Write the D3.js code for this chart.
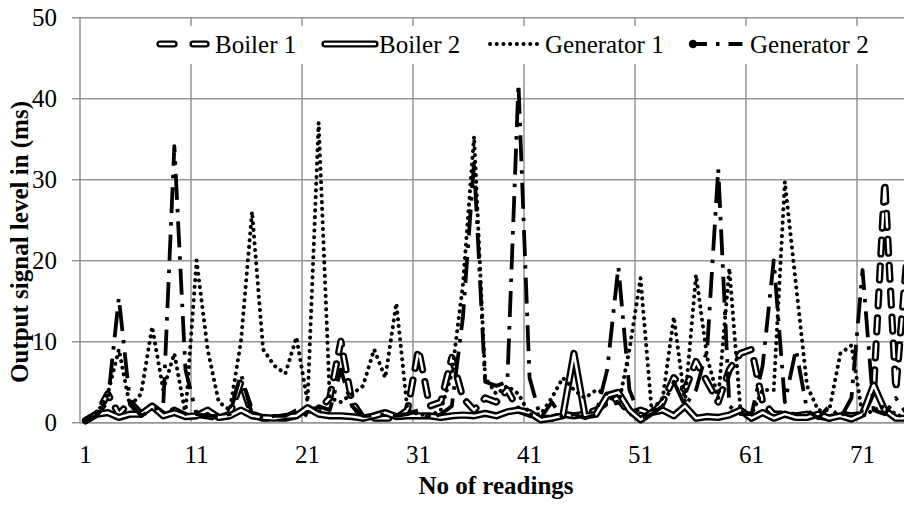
<!DOCTYPE html>
<html><head><meta charset="utf-8">
<script src="https://cdn.jsdelivr.net/npm/d3@7"></script>
<style>body{margin:0;background:#fff}svg{display:block}svg text{font-family:"Liberation Serif","Times New Roman",serif}</style>
</head><body>
<svg id="chart" width="904" height="505"></svg>
<script>
// ---------- data ----------
const readings = d3.range(1, 76);
const boiler1 = [0.2,1,3.5,1,2.5,1,2,1,1.5,0.8, 1,0.8,0.5,1,5,1,0.5,0.5,0.5,0.8,
  1.5,1.5,3,10,2.5,0.5,0.5,0.5,0.5,1.5, 9,2,2.5,8,3,1.5,3,2.5,4,1.5,
  1,0.5,0.5,1,0.8,1,1.5,2.5,3,1, 1.5,1,2.5,5.5,4,7.5,5,2.5,6.5,8.5,
  9,2.5,1,1,0.8,1,0.8,0.5,1,0.8, 1,4,29.7,4,20.5];
const boiler2 = [0.2,1,1.2,0.6,1,1,2,0.8,1.2,0.7, 0.8,1.5,0.6,0.8,1.5,0.8,0.6,0.5,0.7,0.8,
  1.8,1,0.8,0.8,0.7,0.5,0.8,1.2,0.7,0.8, 0.8,0.8,0.6,0.8,0.9,0.8,1.1,0.8,1.3,1.5,
  1.2,0.3,0.5,0.8,8.5,0.8,1,3.3,3.7,1.5, 0.3,1.2,1.5,0.8,2,0.5,0.7,0.6,0.9,1.5,
  0.5,1.2,0.5,1,0.6,0.6,1,0.5,0.8,0.4, 1,4.6,1.5,0.5,0.5];
const generator1 = [0.2,1,3.5,9,2,3.5,11.8,4,8.5,1, 20,9,2.5,1.5,10,26,9,7,6,10.5,
  2.5,37,3,2.5,3.5,4.5,9,5.5,14.7,1.5, 1,0.8,1.5,6,17,35.3,5.5,3.5,4.5,3.5,
  1,1,3,5.5,4,3,4,3.5,2,9, 17.8,1.5,3,13,2.5,18.2,8,3,19,1.5,
  1,4,4,29.7,17,4.5,1.5,1.5,8.5,9.5, 0.8,1.5,2,1,0.5];
const generator2 = [0.2,0.8,2.5,15.4,2.5,0.8,1.5,2,34.1,6.5, 1,0.8,0.8,1,6,1,0.5,0.8,0.8,1.5,
  0.8,2,1.5,6.5,2,0.8,0.8,1,0.8,1, 1.5,0.5,1,2,13,32,5,4.5,5,41.8,
  5.5,0.5,2.5,0.5,1,0.5,1,6.5,19.2,4, 0.5,1,2,5,2,4,9,31.3,2,1,
  1,7,20,2.5,9,1.5,0.5,2,0.5,3, 18.8,1.5,1,3,1];
const yTickValues = [0,10,20,30,40,50];
const xTickLabels = [1,11,21,31,41,51,61,71];
const seriesNames = ["Boiler 1","Boiler 2","Generator 1","Generator 2"];

// ---------- layout ----------
const svg = d3.select("#chart");
const L = 80, R = 912.5, T = 17.3, B = 422.3;
const x = d3.scaleBand().domain(readings).range([L, R]);
const y = d3.scaleLinear().domain([0, 50]).range([B, T]);
const cx = r => x(r) + x.bandwidth() / 2;
const gridCol = "#959595";
const font = "Liberation Serif";

// horizontal gridlines + y ticks
const yAxis = svg.append("g").attr("transform", `translate(${L},0)`)
  .call(d3.axisLeft(y).tickValues(yTickValues).tickSize(8).tickPadding(15).tickSizeOuter(0));
yAxis.select(".domain").remove();
yAxis.selectAll(".tick line").attr("stroke", gridCol).attr("stroke-width", 1.5)
  .attr("x2", -8).attr("x1", R - L);
yAxis.selectAll(".tick text").style("font-family", font).attr("font-size", 25)
  .attr("fill", "#000").attr("dy", "0.33em");

// vertical gridlines at every 10th category boundary
const vLines = readings.filter(r => (r - 1) % 10 === 0);
svg.append("g").selectAll("line").data(vLines).join("line")
  .attr("x1", d => x(d)).attr("x2", d => x(d)).attr("y1", T).attr("y2", B)
  .attr("stroke", gridCol).attr("stroke-width", 1.5);

// x axis
const xAxis = svg.append("g").attr("transform", `translate(0,${B})`)
  .call(d3.axisBottom(x).tickValues(xTickLabels).tickSize(0).tickPadding(23).tickSizeOuter(0));
xAxis.select(".domain").attr("stroke", gridCol).attr("stroke-width", 1.5);
xAxis.selectAll(".tick text").style("font-family", font).attr("font-size", 25).attr("fill", "#000");

// ---------- series ----------
const line = d3.line().x((d, i) => cx(readings[i])).y(d => y(d));
const gPlot = svg.append("g");
function drawDouble(data, dash) {
  gPlot.append("path").attr("d", line(data)).attr("fill", "none").attr("stroke", "#000")
    .attr("stroke-width", 7.2).attr("stroke-linejoin", "round").attr("stroke-linecap", "round")
    .attr("stroke-dasharray", dash);
  gPlot.append("path").attr("d", line(data)).attr("fill", "none").attr("stroke", "#fff")
    .attr("stroke-width", 2.4).attr("stroke-linejoin", "round").attr("stroke-linecap", "round")
    .attr("stroke-dasharray", dash);
}
const dashB1 = "14 12";
const dashG1 = "0.1 6.6";
const dashG2 = "26 9 3.5 9";
drawDouble(boiler1, dashB1);
drawDouble(boiler2, null);
gPlot.append("path").attr("d", line(generator1)).attr("fill", "none").attr("stroke", "#000")
  .attr("stroke-width", 4).attr("stroke-linecap", "round").attr("stroke-linejoin", "round")
  .attr("stroke-dasharray", dashG1);
gPlot.append("path").attr("d", line(generator2)).attr("fill", "none").attr("stroke", "#000")
  .attr("stroke-width", 3.8).attr("stroke-linecap", "butt").attr("stroke-linejoin", "round")
  .attr("stroke-dasharray", dashG2);

// ---------- legend ----------
const lg = svg.append("g");
lg.append("rect").attr("x", 148).attr("y", 26).attr("width", 735).attr("height", 38).attr("fill", "#fff");
const ly = 44;
const items = [
  {name: seriesNames[0], x1: 160, x2: 206, tx: 215},
  {name: seriesNames[1], x1: 325, x2: 375, tx: 379},
  {name: seriesNames[2], x1: 490, x2: 537, tx: 545},
  {name: seriesNames[3], x1: 693, x2: 748, tx: 750}
];
{
  const it = items[0];
  lg.append("line").attr("x1", it.x1).attr("x2", it.x2).attr("y1", ly).attr("y2", ly)
    .attr("stroke", "#000").attr("stroke-width", 7.2).attr("stroke-linecap", "round").attr("stroke-dasharray", "14 19");
  lg.append("line").attr("x1", it.x1).attr("x2", it.x2).attr("y1", ly).attr("y2", ly)
    .attr("stroke", "#fff").attr("stroke-width", 2.4).attr("stroke-linecap", "round").attr("stroke-dasharray", "14 19");
}
{
  const it = items[1];
  lg.append("line").attr("x1", it.x1).attr("x2", it.x2).attr("y1", ly).attr("y2", ly)
    .attr("stroke", "#000").attr("stroke-width", 7.2).attr("stroke-linecap", "round");
  lg.append("line").attr("x1", it.x1).attr("x2", it.x2).attr("y1", ly).attr("y2", ly)
    .attr("stroke", "#fff").attr("stroke-width", 2.4).attr("stroke-linecap", "round");
}
{
  const it = items[2];
  lg.append("line").attr("x1", it.x1).attr("x2", it.x2).attr("y1", ly).attr("y2", ly)
    .attr("stroke", "#000").attr("stroke-width", 4).attr("stroke-linecap", "round").attr("stroke-dasharray", dashG1);
}
{
  const it = items[3];
  lg.append("circle").attr("cx", it.x1).attr("cy", ly).attr("r", 4.2).attr("fill", "#000");
  lg.append("line").attr("x1", it.x1).attr("x2", it.x2).attr("y1", ly).attr("y2", ly)
    .attr("stroke", "#000").attr("stroke-width", 3.8).attr("stroke-dasharray", "14 9 3.5 9");
}
lg.selectAll("text.lt").data(items).join("text").attr("class", "lt")
  .attr("x", d => d.tx).attr("y", ly + 9).style("font-family", font).attr("font-size", 25)
  .text(d => d.name);

// ---------- titles ----------
svg.append("text").attr("x", 496).attr("y", 494).attr("text-anchor", "middle")
  .style("font-family", font).attr("font-size", 25).attr("font-weight", "bold").text("No of readings");
svg.append("text").attr("transform", "translate(28,242) rotate(-90)").attr("text-anchor", "middle")
  .style("font-family", font).attr("font-size", 25).attr("font-weight", "bold").text("Output signal level in (ms)");
</script>
</body></html>
